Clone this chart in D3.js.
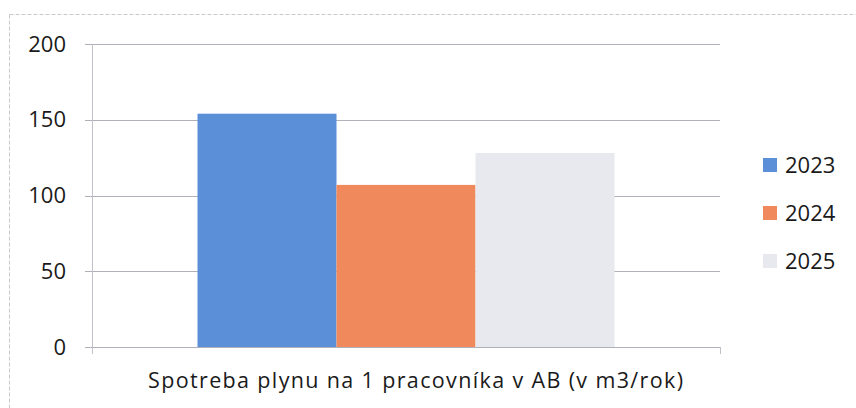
<!DOCTYPE html>
<html><head><meta charset="utf-8">
<script src="https://cdn.jsdelivr.net/npm/d3@7"></script>
<style>body{margin:0;background:#fff}svg{display:block}text{font-family:"Open Sans",sans-serif;fill:#1a1a1a}</style>
</head><body><svg id="c" width="856" height="408"></svg>
<script>
const categories = ["Spotreba plynu na 1 pracovníka v AB (v m3/rok)"];
const seriesNames = ["2023", "2024", "2025"];
const seriesValues = [154, 107, 128];
const seriesColors = ["#5b8fd7", "#f08a5d", "#e8e9ef"];
const yTicks = [0, 50, 100, 150, 200];

(function () {
const svg = d3.select("#c");
// chart frame
svg.append("rect").attr("x", 9.5).attr("y", 14.5).attr("width", 860).attr("height", 420)
  .attr("fill", "none").attr("stroke", "#c8c8cc").attr("stroke-dasharray", "4,2");

const pL = 92, pR = 720, pT = 44, pB = 347;
const y = d3.scaleLinear().domain([0, 200]).range([pB, pT]);
const x0 = d3.scaleBand().domain(categories).range([pL, pR]).paddingInner(0).paddingOuter(0.253);
const x1 = d3.scaleBand().domain(seriesNames).range([0, x0.bandwidth()]).padding(0);

// gridlines
svg.append("g").selectAll("line").data(yTicks).join("line")
  .attr("x1", 85).attr("x2", pR).attr("y1", d => Math.round(y(d)) + 0.5).attr("y2", d => Math.round(y(d)) + 0.5)
  .attr("stroke", "#b0b0b8").attr("stroke-width", 1);

// y axis labels
svg.append("g").selectAll("text").data(yTicks).join("text")
  .attr("x", 66).attr("y", d => y(d)).attr("dy", "0.35em").attr("text-anchor", "end")
  .attr("font-size", 22).text(d => d);

// vertical axis line
svg.append("line").attr("x1", pL + 0.5).attr("x2", pL + 0.5).attr("y1", pT).attr("y2", pB + 7)
  .attr("stroke", "#c0c0c8");
svg.append("line").attr("x1", pR + 0.5).attr("x2", pR + 0.5).attr("y1", pB).attr("y2", pB + 7)
  .attr("stroke", "#c0c0c8");

// bars
const data = seriesNames.map((s, i) => ({cat: categories[0], s, v: seriesValues[i], c: seriesColors[i]}));
svg.append("g").selectAll("rect").data(data).join("rect")
  .attr("x", d => x0(d.cat) + x1(d.s)).attr("width", x1.bandwidth())
  .attr("y", d => y(d.v)).attr("height", d => y(0) - y(d.v))
  .attr("fill", d => d.c);

// x axis title
svg.append("text").attr("x", 415.5).attr("y", 388).attr("text-anchor", "middle")
  .attr("font-size", 21.5).attr("textLength", 535).attr("lengthAdjust", "spacing").text(categories[0]);

// legend
const lg = svg.append("g").selectAll("g").data(data).join("g")
  .attr("transform", (d, i) => `translate(763, ${165 + i * 48})`);
lg.append("rect").attr("x", 0).attr("y", -7).attr("width", 14).attr("height", 14).attr("fill", d => d.c);
lg.append("text").attr("x", 22).attr("dy", "0.35em").attr("font-size", 22).text(d => d.s);
})();
</script></body></html>
